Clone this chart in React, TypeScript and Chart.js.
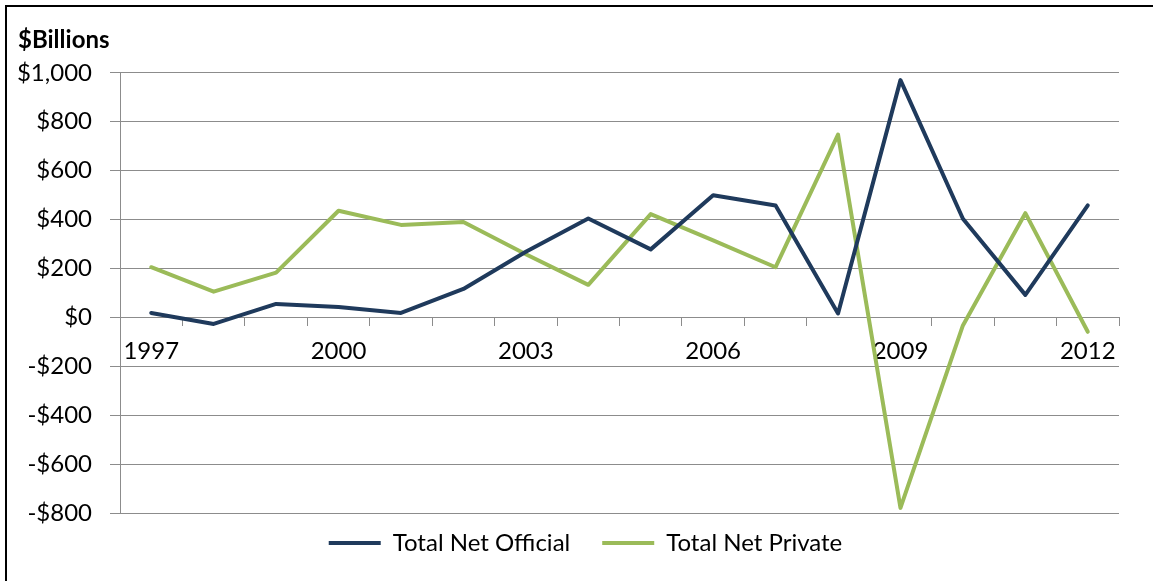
import React, { useEffect, useRef } from "react";
import { Chart, registerables } from "chart.js";

Chart.register(...registerables);

const years = ["1997", "1998", "1999", "2000", "2001", "2002", "2003", "2004", "2005", "2006", "2007", "2008", "2009", "2010", "2011", "2012"];
const officialValues = [18, -27, 55, 42, 18, 116, 268, 404, 278, 499, 457, 16, 970, 403, 92, 458];
const privateValues = [205, 105, 183, 436, 378, 390, 258, 133, 422, 315, 205, 747, -779, -33, 426, -59];
const seriesNames = ["Total Net Official", "Total Net Private"];
const yMin = -800;
const yMax = 1000;
const yStep = 200;
const labelEvery = 3;
const unitTitle = "$Billions";

const FONT = "Lato, 'Open Sans', sans-serif";
const NAVY = "#1F3A5C";
const GREEN = "#9BBB59";
const GRID = "#8C8C8C";

function money(v: number): string {
  const s = "$" + Math.abs(v).toLocaleString("en-US");
  return v < 0 ? "-" + s : s;
}

export default function App() {
  const ref = useRef<HTMLCanvasElement | null>(null);

  useEffect(() => {
    if (!ref.current) return;
    const legendShift = {
      id: "legendShift",
      afterLayout(chart: any) {
        const lg = chart.legend;
        if (lg) {
          lg.top -= 14;
          lg.bottom -= 14;
        }
      },
    };
    const chart = new Chart(ref.current, {
      type: "line",
      data: {
        labels: years,
        datasets: [
          {
            label: seriesNames[0],
            data: officialValues,
            borderColor: NAVY,
            backgroundColor: NAVY,
            borderWidth: 4,
            pointRadius: 0,
            tension: 0,
            borderJoinStyle: "round",
            borderCapStyle: "round",
          },
          {
            label: seriesNames[1],
            data: privateValues,
            borderColor: GREEN,
            backgroundColor: GREEN,
            borderWidth: 4,
            pointRadius: 0,
            tension: 0,
            borderJoinStyle: "round",
            borderCapStyle: "round",
          },
        ],
      },
      options: {
        responsive: false,
        maintainAspectRatio: false,
        animation: false,
        layout: { padding: { left: 18, right: 0, top: 0, bottom: 2 } },
        scales: {
          x: {
            type: "category",
            position: { y: 0 } as any,
            offset: true,
            grid: {
              offset: true,
              drawOnChartArea: false,
              drawTicks: true,
              tickLength: 8,
              color: GRID,
            },
            border: { display: true, color: GRID, width: 1 },
            ticks: {
              autoSkip: false,
              maxRotation: 0,
              padding: 12,
              color: "#000",
              font: { family: FONT, size: 24 },
              callback: (_v: any, i: number) => (i % labelEvery === 0 ? years[i] : ""),
            },
          },
          y: {
            min: yMin,
            max: yMax,
            grid: { color: GRID, tickLength: 10, drawTicks: true },
            border: { display: true, color: GRID, width: 1 },
            ticks: {
              stepSize: yStep,
              padding: 18,
              color: "#000",
              font: { family: FONT, size: 24 },
              callback: (v: any) => money(Number(v)),
            },
            afterFit: (s: any) => {
              s.width = 102;
            },
          },
          y2: {
            position: "right",
            display: true,
            grid: { display: false },
            border: { display: false },
            ticks: { display: false },
            afterFit: (s: any) => {
              s.width = 34;
            },
          },
        },
        plugins: {
          title: {
            display: true,
            text: unitTitle,
            align: "start",
            color: "#000",
            font: { family: FONT, size: 24, weight: "bold" },
            padding: { top: 26, bottom: 18 },
          },
          legend: {
            display: true,
            position: "bottom",
            labels: {
              usePointStyle: true,
              pointStyle: "line",
              pointStyleWidth: 52,
              padding: 32,
              color: "#000",
              font: { family: FONT, size: 24 },
            },
          },
          tooltip: { enabled: false },
        },
      },
      plugins: [legendShift],
    } as any);
    return () => chart.destroy();
  }, []);

  return (
    <div style={{ position: "fixed", left: 0, top: 0, width: 1153, height: 581, background: "#fff", overflow: "hidden" }}>
      <canvas ref={ref} width={1153} height={581} style={{ position: "absolute", left: 0, top: 0, width: 1153, height: 581 }} />
      <div style={{ position: "absolute", left: 5, top: 5, width: 1160, height: 600, borderLeft: "2px solid #000", borderTop: "2px solid #000", pointerEvents: "none" }} />
    </div>
  );
}
